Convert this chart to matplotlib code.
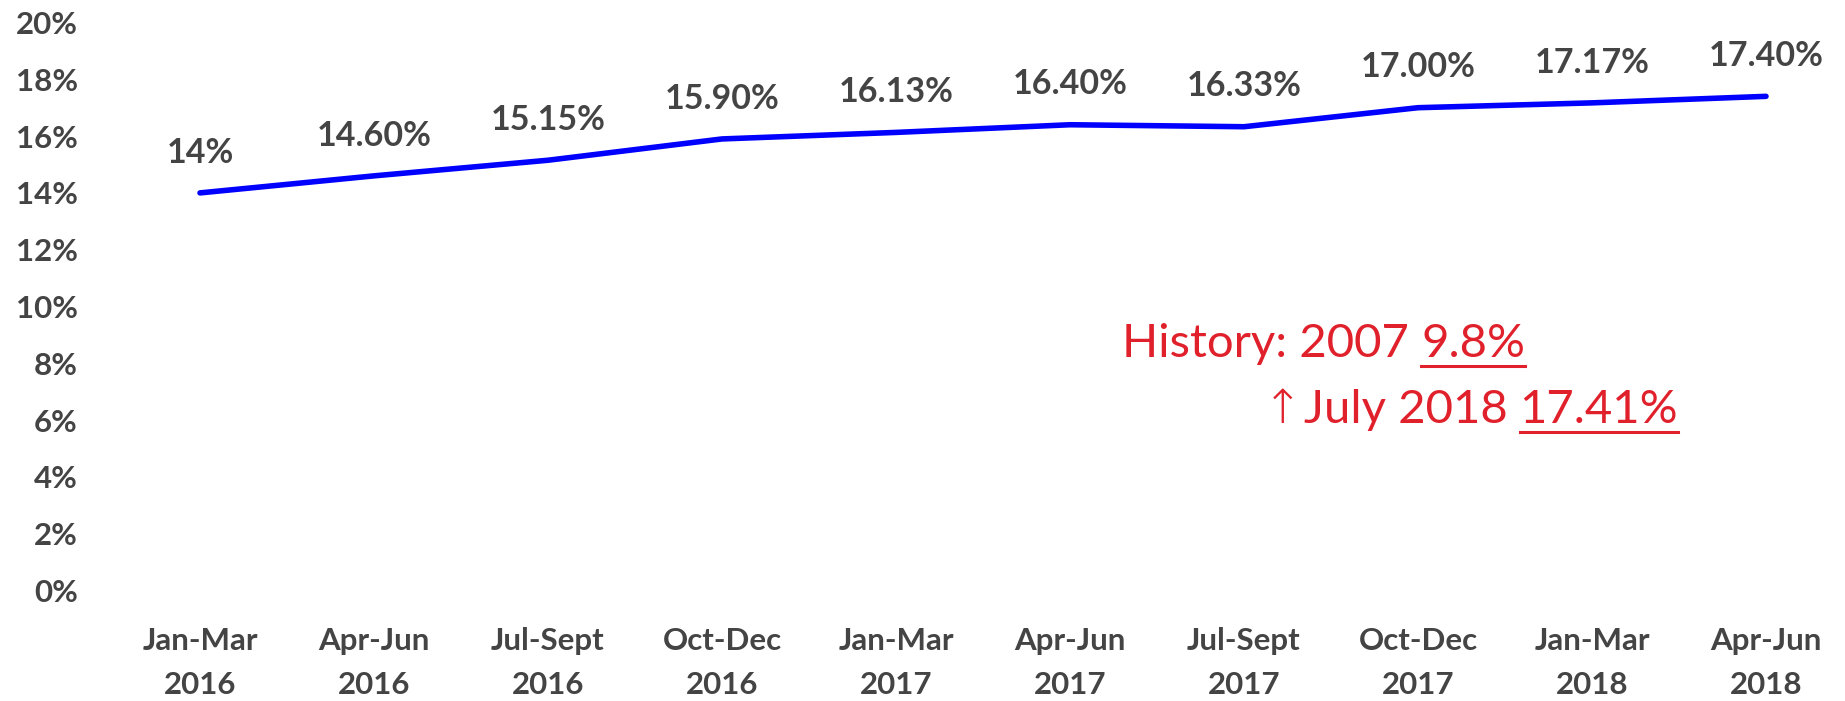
import matplotlib
matplotlib.use("Agg")
import matplotlib.pyplot as plt
from matplotlib.ticker import FuncFormatter
from matplotlib.lines import Line2D

categories = ["Jan-Mar\n2016", "Apr-Jun\n2016", "Jul-Sept\n2016", "Oct-Dec\n2016",
              "Jan-Mar\n2017", "Apr-Jun\n2017", "Jul-Sept\n2017", "Oct-Dec\n2017",
              "Jan-Mar\n2018", "Apr-Jun\n2018"]
values = [14.0, 14.60, 15.15, 15.90, 16.13, 16.40, 16.33, 17.00, 17.17, 17.40]
value_labels = ["14%", "14.60%", "15.15%", "15.90%", "16.13%", "16.40%",
                "16.33%", "17.00%", "17.17%", "17.40%"]
y_ticks = [0, 2, 4, 6, 8, 10, 12, 14, 16, 18, 20]

GRAY = "#444444"
RED = "#E0202B"
BLUE = "#0000FF"

plt.rcParams['font.family'] = ['Lato', 'DejaVu Sans']

W, H = 1845, 701
fig = plt.figure(figsize=(W / 100, H / 100), dpi=100)
left_px, right_px = 111, 1845
ax = fig.add_axes([left_px / W, (H - 590.5) / H, (right_px - left_px) / W, (590.5 - 22.5) / H])

x = list(range(len(values)))
ax.plot(x, values, color=BLUE, lw=4.0, solid_capstyle='round', solid_joinstyle='round')

step = 174.0
ax.set_xlim(-(200 - left_px) / step, (right_px - 200) / step)
ax.set_ylim(0, 20)

for xi, v, lab in zip(x, values, value_labels):
    ax.annotate(lab, (xi, v), xytext=(0, 29), textcoords='offset points',
                ha='center', va='center', fontsize=24.5, fontweight='bold', color=GRAY)

ax.set_yticks(y_ticks)
ax.yaxis.set_major_formatter(FuncFormatter(lambda v, p: f"{int(v)}%"))
ax.set_xticks(x)
ax.set_xticklabels(categories, linespacing=1.7)
ax.tick_params(axis='both', length=0, labelsize=22.5, labelcolor=GRAY)
ax.tick_params(axis='y', pad=24)
ax.tick_params(axis='x', pad=26)
for lbl in ax.get_xticklabels() + ax.get_yticklabels():
    lbl.set_fontweight('bold')
for s in ax.spines.values():
    s.set_visible(False)

# annotation text
fs = 34
t1 = fig.text(1122 / W, (H - 357) / H, "History: 2007 ", fontsize=fs, color=RED,
              ha='left', va='baseline')
fig.canvas.draw()
r = fig.canvas.get_renderer()
bb1 = t1.get_window_extent(r)
t2 = fig.text(bb1.x1 / W, (H - 357) / H, "9.8%", fontsize=fs, color=RED,
              ha='left', va='baseline')
t3 = fig.text(1263 / W, (H - 423) / H, "\u2191", fontsize=fs, color=RED,
              ha='left', va='baseline', family=['DejaVu Sans'], fontweight='light')
fig.canvas.draw()
bb3 = t3.get_window_extent(r)
t4 = fig.text((bb3.x1 + 1) / W, (H - 423) / H, "July 2018 ", fontsize=fs, color=RED,
              ha='left', va='baseline')
fig.canvas.draw()
bb4 = t4.get_window_extent(r)
t5 = fig.text(bb4.x1 / W, (H - 423) / H, "17.41%", fontsize=fs, color=RED,
              ha='left', va='baseline')
fig.canvas.draw()
for t, base in ((t2, 357), (t5, 423)):
    bb = t.get_window_extent(r)
    yl = (H - base - 9) / H
    fig.add_artist(Line2D([bb.x0 / W, bb.x1 / W], [yl, yl], color=RED, lw=2.2,
                          transform=fig.transFigure))

fig.savefig("out.png", dpi=100)
